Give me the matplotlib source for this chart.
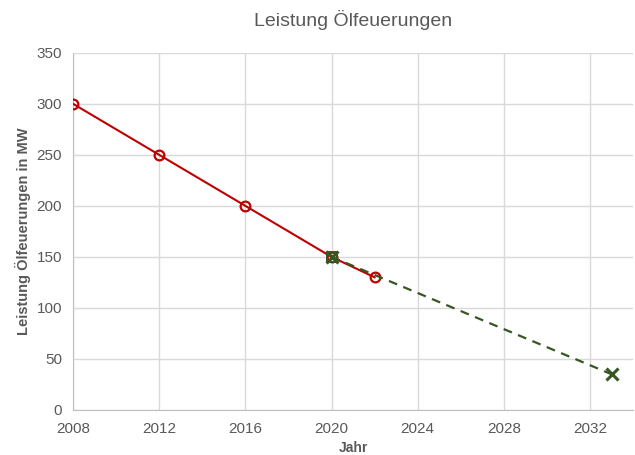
import matplotlib
matplotlib.use("Agg")
import matplotlib.pyplot as plt

plt.rcParams['font.family'] = ['Liberation Sans', 'DejaVu Sans']

years_actual = [2008, 2012, 2016, 2020, 2022]
power_actual = [300, 250, 200, 150, 130]
years_forecast = [2020, 2033]
power_forecast = [150, 35]
xticks = [2008, 2012, 2016, 2020, 2024, 2028, 2032]
yticks = [0, 50, 100, 150, 200, 250, 300, 350]

fig = plt.figure(figsize=(6.35, 4.55), dpi=100)
ax = fig.add_axes([0.115, 0.099, 0.882, 0.785])

ax.plot(years_actual, power_actual, color='#C00000', lw=1.5, marker='o', ms=7,
        mfc='none', mec='#C00000', mew=1.6, zorder=3)
ax.plot(years_forecast, power_forecast, color='#375623', lw=1.6, ls=(0, (4, 3)),
        marker='x', ms=8, mew=2.2, zorder=4)
ax.plot([years_forecast[0]], [power_forecast[0]], marker='s', ms=7, mfc='none',
        mec='#375623', mew=1.4, ls='none', zorder=4)

ax.set_xlim(2008, 2034)
ax.set_ylim(0, 350)
ax.set_xticks(xticks)
ax.set_yticks(yticks)
ax.grid(True, color='#D9D9D9', lw=1)
ax.set_axisbelow(True)
for s in ['top', 'right']:
    ax.spines[s].set_visible(False)
for s in ['left', 'bottom']:
    ax.spines[s].set_color('#BFBFBF')
ax.tick_params(length=0, labelsize=11, labelcolor='#595959')
ax.tick_params(axis='x', pad=9)
ax.tick_params(axis='y', pad=8)

ax.set_title('Leistung Ölfeuerungen', fontsize=14, color='#595959', pad=19)
ax.set_xlabel('Jahr', fontsize=10, fontweight='bold', color='#595959', labelpad=3)
ax.set_ylabel('Leistung Ölfeuerungen in MW', fontsize=10.5, fontweight='bold',
              color='#595959', labelpad=4)

fig.savefig('out.png', dpi=100)
